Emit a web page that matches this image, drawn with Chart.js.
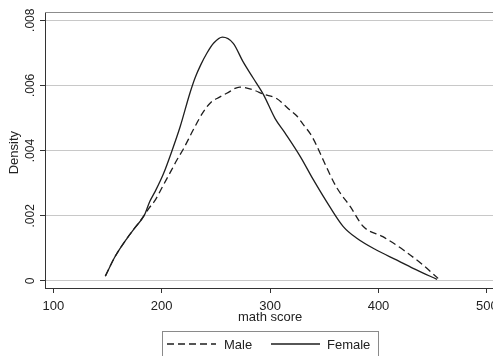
<!DOCTYPE html>
<html><head><meta charset="utf-8">
<script src="https://cdn.jsdelivr.net/npm/chart.js@4/dist/chart.umd.min.js"></script>
<style>
html,body{margin:0;padding:0;background:#fff;overflow:hidden;width:493px;height:356px}
#wrap{width:520px;height:356px;position:relative}
</style></head>
<body><div id="wrap"><canvas id="c" width="520" height="356"></canvas></div>
<script>
const femaleX = [148, 157, 168, 175, 184, 189, 194, 201.5, 209, 217, 226, 231, 236, 241.5, 248, 256, 266, 275, 284.5, 294, 304.5, 314, 328, 340, 355, 367.5, 380, 398, 417, 435, 454];
const femaleY = [.00015, .00075, .00131, .00162, .00202, .00244, .00275, .00328, .00395, .00473, .00576, .00625, .00663, .00698, .0073, .00748, .00729, .00673, .00622, .00571, .00499, .00453, .00381, .0031, .00228, .00167, .00131, .00095, .00064, .00034, .00005];
const maleX = [148, 157, 168, 175, 184, 188, 194, 201.5, 209, 214, 220, 229, 238.4, 246, 251, 260, 272, 284.5, 294, 306, 318, 324.5, 331, 337, 343, 349, 361, 374, 386, 404, 423, 441, 455];
const maleY = [.00015, .00075, .00131, .00162, .00202, .00222, .00248, .00294, .0034, .00371, .00405, .00463, .00519, .0055, .0056, .00576, .00595, .00586, .00573, .0056, .00525, .00507, .00478, .00452, .00415, .00371, .00289, .00228, .00167, .00136, .00095, .00049, .00008];
const xTicks = [100, 200, 300, 400, 500];
const yTicks = [0, 0.002, 0.004, 0.006, 0.008];
const yTickLabels = ['0', '.002', '.004', '.006', '.008'];
const seriesNames = ['Male', 'Female'];
const xTitle = 'math score';
const yTitle = 'Density';

const FONT = '"Liberation Sans", Arial, sans-serif';
const pts = (xs, ys) => xs.map((x, i) => ({x, y: ys[i]}));

const custom = {
  id: 'custom',
  afterDraw(chart) {
    const ctx = chart.ctx, ca = chart.chartArea, ys = chart.scales.y, xs = chart.scales.x;
    ctx.save();
    // top frame
    ctx.strokeStyle = '#8c8c8c'; ctx.lineWidth = 1;
    ctx.beginPath(); ctx.moveTo(ca.left, ca.top + 0.5); ctx.lineTo(ca.right, ca.top + 0.5); ctx.stroke();
    // y tick labels rotated
    ctx.fillStyle = '#222'; ctx.font = '12px ' + FONT;
    ctx.textAlign = 'center'; ctx.textBaseline = 'middle';
    yTicks.forEach((v, i) => {
      const py = ys.getPixelForValue(v);
      ctx.save(); ctx.translate(31, py); ctx.rotate(-Math.PI / 2);
      ctx.fillText(yTickLabels[i], 0, 0); ctx.restore();
    });
    // y title
    ctx.font = '13px ' + FONT;
    ctx.save(); ctx.translate(14, (ys.getPixelForValue(0.002) + ys.getPixelForValue(0.006)) / 2 + 2); ctx.rotate(-Math.PI / 2);
    ctx.fillText(yTitle, 0, 0); ctx.restore();
    // x title
    ctx.fillText(xTitle, xs.getPixelForValue(300), 317);
    // legend
    const lx = 162, ly = 331, lw = 216, lh = 30;
    ctx.strokeStyle = '#8a8a8a'; ctx.lineWidth = 1;
    ctx.strokeRect(lx + 0.5, ly + 0.5, lw, lh);
    const cy = 344;
    const items = [{x0: 167, x1: 216, tx: 224}, {x0: 271, x1: 320, tx: 327}];
    chart.data.datasets.forEach((ds, i) => {
      const it = items[i];
      ctx.strokeStyle = ds.borderColor; ctx.lineWidth = ds.borderWidth;
      ctx.setLineDash(ds.borderDash || []);
      ctx.beginPath(); ctx.moveTo(it.x0, cy); ctx.lineTo(it.x1, cy); ctx.stroke();
      ctx.setLineDash([]);
      ctx.fillStyle = '#222'; ctx.font = '13px ' + FONT; ctx.textAlign = 'left';
      ctx.fillText(ds.label, it.tx, cy + 1);
    });
    ctx.restore();
  }
};

new Chart(document.getElementById('c'), {
  type: 'line',
  data: {
    datasets: [
      {label: seriesNames[0], data: pts(maleX, maleY), borderColor: '#1e1e1e', borderWidth: 1.3, borderDash: [7, 4], pointRadius: 0, cubicInterpolationMode: 'monotone', fill: false},
      {label: seriesNames[1], data: pts(femaleX, femaleY), borderColor: '#1e1e1e', borderWidth: 1.3, pointRadius: 0, cubicInterpolationMode: 'monotone', fill: false}
    ]
  },
  options: {
    responsive: false, animation: false,
    layout: {padding: {top: 12, right: 10, left: 0, bottom: 0}},
    plugins: {legend: {display: false}, tooltip: {enabled: false}},
    scales: {
      x: {
        type: 'linear', min: 92.34, max: 521.3,
        afterBuildTicks: s => { s.ticks = xTicks.map(v => ({value: v})); },
        afterFit: s => { s.height = 68; },
        grid: {drawOnChartArea: false, drawTicks: true, tickLength: 5, color: '#333', lineWidth: 1},
        border: {display: true, color: '#333', width: 1},
        ticks: {font: {family: FONT, size: 13}, color: '#222', padding: 6, maxRotation: 0, callback: v => String(v)},
        title: {display: false}
      },
      y: {
        type: 'linear', min: -0.000215, max: 0.008252,
        afterBuildTicks: s => { s.ticks = yTicks.map(v => ({value: v})); },
        afterFit: s => { s.width = 45; },
        grid: {drawOnChartArea: true, drawTicks: true, tickLength: 5, color: '#c8c8c8', tickColor: '#333', lineWidth: 1},
        border: {display: true, color: '#333', width: 1},
        ticks: {display: false}
      }
    }
  },
  plugins: [custom]
});
</script></body></html>
